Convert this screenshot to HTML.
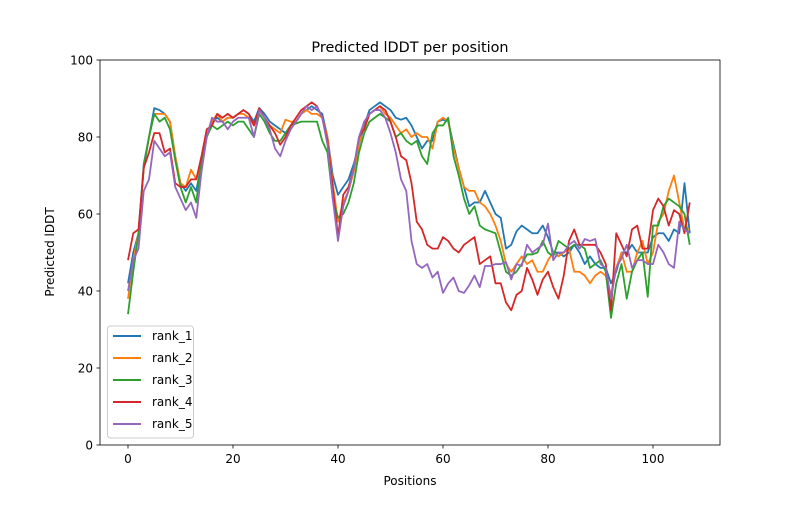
<!DOCTYPE html>
<html><head><meta charset="utf-8"><style>
body{margin:0;background:#fff;}
svg text{font-family:"DejaVu Sans","Liberation Sans",sans-serif;fill:#000;}
</style></head><body>
<svg id="s" width="800" height="500" xmlns="http://www.w3.org/2000/svg">
<rect width="800" height="500" fill="#fff"/>
<text x="410" y="52" font-size="14.4" text-anchor="middle">Predicted lDDT per position</text>
<text x="410" y="485" font-size="12" text-anchor="middle">Positions</text>
<text x="0" y="0" font-size="12" text-anchor="middle" transform="translate(54,252) rotate(-90)">Predicted lDDT</text>
<g id="plot"></g>
<rect x="100" y="60" width="620" height="385" fill="none" stroke="#000" stroke-width="0.8"/>
<g id="ticks" font-size="12"></g>
<g>
<rect x="107.5" y="326" width="86" height="112" rx="3" fill="#fff" fill-opacity="0.8" stroke="#ccc"/>
<line x1="113" x2="141" y1="336" y2="336" stroke="#1f77b4" stroke-width="2"/><text x="152" y="340" font-size="12">rank_1</text>
<line x1="113" x2="141" y1="358" y2="358" stroke="#ff7f0e" stroke-width="2"/><text x="152" y="362" font-size="12">rank_2</text>
<line x1="113" x2="141" y1="380" y2="380" stroke="#2ca02c" stroke-width="2"/><text x="152" y="384" font-size="12">rank_3</text>
<line x1="113" x2="141" y1="402" y2="402" stroke="#d62728" stroke-width="2"/><text x="152" y="406" font-size="12">rank_4</text>
<line x1="113" x2="141" y1="424" y2="424" stroke="#9467bd" stroke-width="2"/><text x="152" y="428" font-size="12">rank_5</text>
</g>
</svg>
<script>
var NS="http://www.w3.org/2000/svg";
function X(v){return 128+v*5.25;}function Y(v){return 445-v*3.85;}
var t=document.getElementById('ticks'),h='';
[0,20,40,60,80,100].forEach(function(v){h+='<line x1="'+X(v)+'" x2="'+X(v)+'" y1="445" y2="448.5" stroke="#000" stroke-width="0.8"/><text x="'+X(v)+'" y="463" text-anchor="middle">'+v+'</text>';});
[0,20,40,60,80,100].forEach(function(v){h+='<line x1="96.5" x2="100" y1="'+Y(v)+'" y2="'+Y(v)+'" stroke="#000" stroke-width="0.8"/><text x="93" y="'+(Y(v)+4.5)+'" text-anchor="end">'+v+'</text>';});
t.innerHTML=h;
var D=[
["#1f77b4",[42,50,55,73,80,87.5,87,86,84,75,68,66,68,66,73,80,84,85,84,85,85,86,87,86,84,87.5,86,84,83,82,81,83,84,86,87,88,87,86,80,70,65,67,69,73,78,83,87,88,89,88,87,85,84.5,85,83,80,77,79,79,84,84.5,84,78,72,67,62,63,63,66,63,60,59,51,52,55.5,57,56,55,55,57,54,50,50,49,50,52,50,47,49,47,46,46,42,45,50,50,52,50,50,50,54,55,55,53,56,55,68,55]],
["#ff7f0e",[38,48,55,72,80,86,86,86,84,75,68,67,71.5,69,74,80,84,86,84,85,85,86,86,85,83,87,85,83,82,81,84.5,84,84,86,87,86,86,85,80,68,58,63,66,71,78,84,86,87,88,86,85,83,81,82,80,81,80,80,77,84,85,84,77,72,67,66,66,63,62,60,57,53,47,45,47,49,47,48,45,45,48,50,49,50,51,45,45,44,42,44,45,44,39,46,50,45,45,50,53,47,50,58,60,66,70,63,56,56]],
["#2ca02c",[34,45,55,72,80,86,84,85,82,74,67,63,67,63,74,80,83,82,83,84,83,84,84,82,80,86,84,81,79,79,81,83,83.5,84,84,84,84,79,76,64,59,60,63,68,76,81,84,85,86,85,84,80,81,79,78,79,75,73,81,83,83,85,75,70,64,60,62,57,56,55.5,55,50,45,44,45,47,49.5,49.5,50,53,50,49,53,52,51,52,52,51,46,47,48,45,33,42,47,38,45,48,50,38.5,57,57,62,64,63,62,60,52]],
["#d62728",[48,55,56,72,76,81,81,76,77,68,67,67,69,69,75,82,83,86,85,86,85,86,87,86,83,87.5,85,83,81,78,80,83,85,87,88,89,88,85,79,67,54,65,67,72,80,82,86,87,88,87,84,80,75,74,68,58,56,52,51,51,54,53,51,50,52,53,54,47,48,49,42,42,37,35,39,40,46,43,39,43,45,41,38,44,53,56,52,52,52,52,50,47,35,55,52,49,56,57,51,51,61,64,62,57,61,60,55,63]],
["#9467bd",[40,48,51,66,69,79,77,75,76,67,64,61,63,59,71,80,85,84,84,82,84,85,85,85,80,87,85,82,77,75,79,82,84,86,88,87,88,85,78,64,53,62,66,72,80,84,86,87,87,85,81,76,69,66,53,47,46,47,43.5,45,39.5,42,43.5,40,39.5,41.5,44,41,46.5,46.5,47,47,47.5,43,47,46.5,52,50,51,52,57.5,48,50,50,52,53,51,53.5,53,53.5,47,46,38,46,48.5,52,46,48,48,47,47,52,50,47,46,58,56,55]]
];
var g=document.getElementById('plot');
D.forEach(function(s){var p=document.createElementNS(NS,'polyline');
p.setAttribute('points',s[1].map(function(v,i){return X(i).toFixed(2)+','+Y(v).toFixed(2);}).join(' '));
p.setAttribute('fill','none');p.setAttribute('stroke',s[0]);p.setAttribute('stroke-width','1.8');p.setAttribute('stroke-linejoin','round');g.appendChild(p);});
</script>
</body></html>
